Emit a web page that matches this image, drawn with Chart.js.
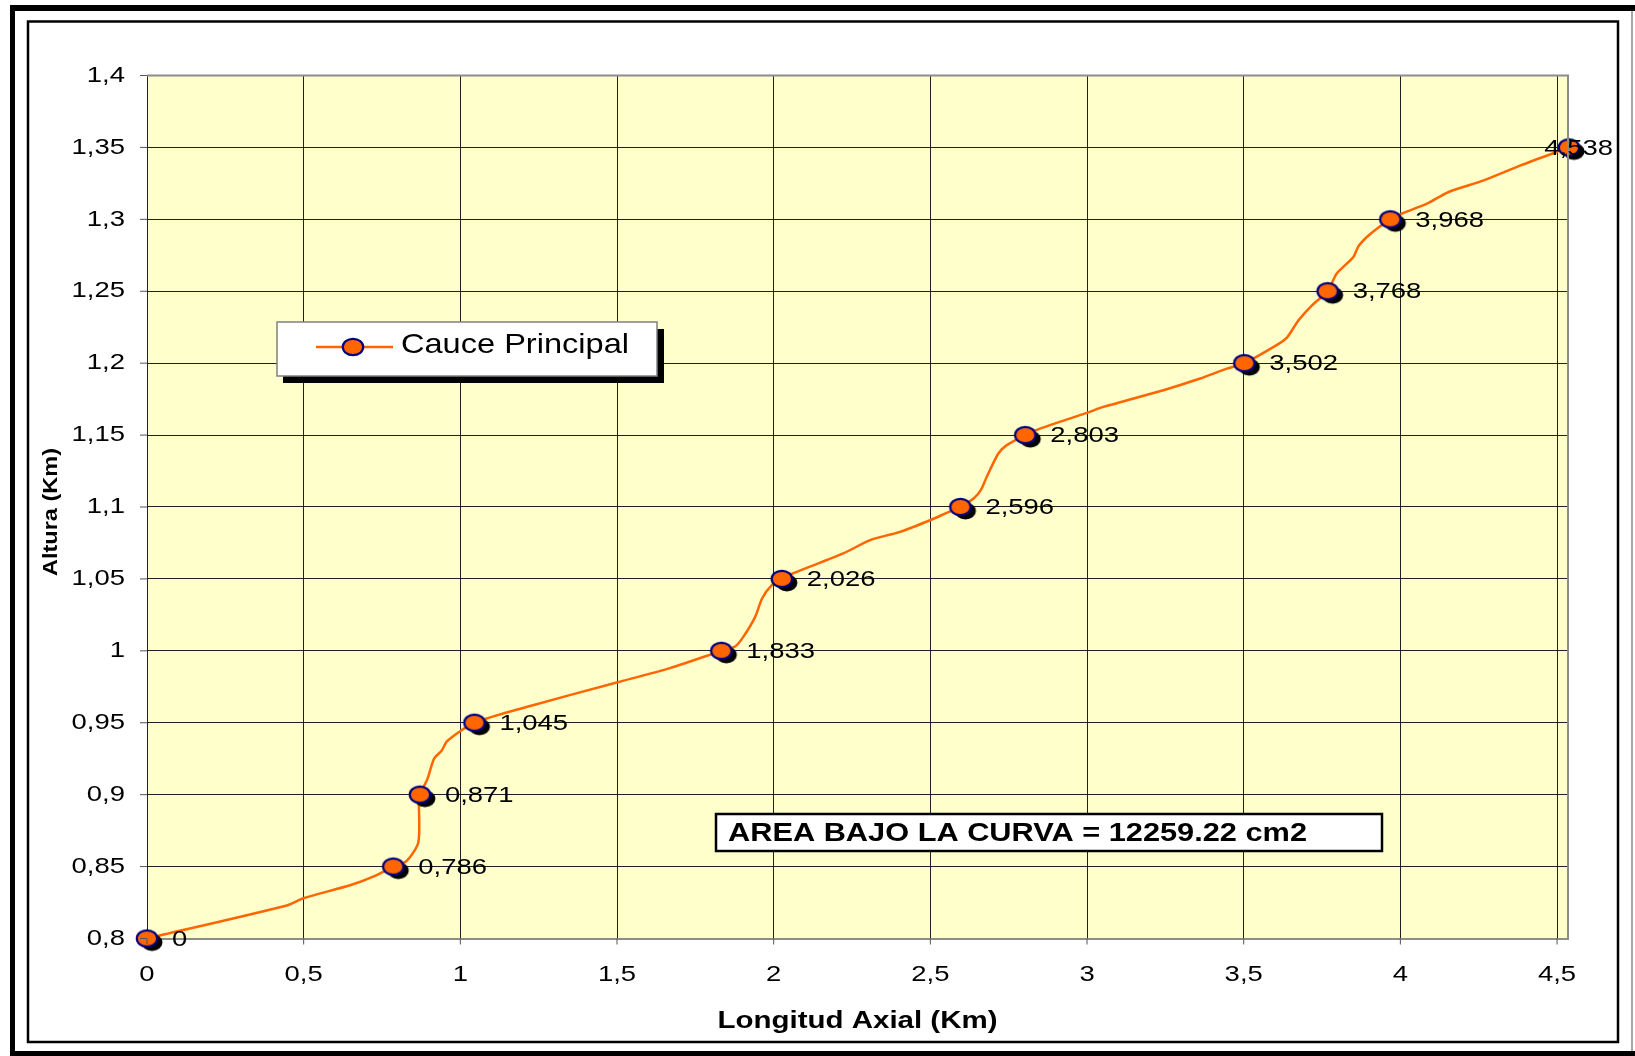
<!DOCTYPE html>
<html lang="es">
<head>
<meta charset="UTF-8" />
<title>Curva hipsométrica</title>
<script src="https://cdn.jsdelivr.net/npm/chart.js"></script>
<style>
  body { margin: 0; background: #fff; }
  canvas { display: block; }
</style>
</head>
<body>
<canvas id="grafico" width="1635" height="1056"></canvas>
<script>
  // curva trazada (km)
  var curvaX = [0, 0.446, 0.499, 0.648, 0.722, 0.786, 0.829, 0.866, 0.868, 0.871, 0.895, 0.916, 0.940, 0.959,
    1.045, 1.211, 1.499, 1.669, 1.833, 1.877, 1.903, 1.941, 1.963, 1.994, 2.026, 2.063, 2.222, 2.308, 2.403,
    2.499, 2.552, 2.596, 2.638, 2.661, 2.680, 2.717, 2.744, 2.803, 2.850, 2.999, 3.052, 3.244, 3.361, 3.446,
    3.502, 3.601, 3.638, 3.675, 3.718, 3.768, 3.797, 3.850, 3.866, 3.893, 3.925, 3.968, 4.005, 4.085, 4.154,
    4.266, 4.384, 4.538];
  var curvaY = [0.8, 0.823, 0.828, 0.837, 0.843, 0.85, 0.854, 0.867, 0.895, 0.9, 0.911, 0.925, 0.9305, 0.9375,
    0.95, 0.961, 0.978, 0.988, 1.0, 1.003, 1.0097, 1.0236, 1.0364, 1.0457, 1.05, 1.054, 1.0677, 1.077, 1.0827,
    1.0908, 1.0959, 1.1, 1.1059, 1.1117, 1.121, 1.1372, 1.143, 1.15, 1.1545, 1.1654, 1.1696, 1.1812, 1.1893, 1.1962,
    1.2, 1.212, 1.2178, 1.2298, 1.2402, 1.25, 1.2623, 1.2738, 1.2812, 1.2877, 1.2935, 1.3, 1.304, 1.3109, 1.319,
    1.3271, 1.3375, 1.35];

  // puntos marcados
  var puntosX = [0, 0.786, 0.871, 1.045, 1.833, 2.026, 2.596, 2.803, 3.502, 3.768, 3.968, 4.538];
  var puntosY = [0.8, 0.85, 0.9, 0.95, 1.0, 1.05, 1.1, 1.15, 1.2, 1.25, 1.3, 1.35];

  var ticksX = [0, 0.5, 1, 1.5, 2, 2.5, 3, 3.5, 4, 4.5];
  var ticksY = [0.8, 0.85, 0.9, 0.95, 1, 1.05, 1.1, 1.15, 1.2, 1.25, 1.3, 1.35, 1.4];

  var nombreSerie = 'Cauce Principal';
  var notaArea = 'AREA BAJO LA CURVA = 12259.22 cm2';
  var tituloX = 'Longitud Axial (Km)';
  var tituloY = 'Altura (Km)';

  var FUENTE = "'Liberation Sans', Arial, sans-serif";

  function coma(v) { return String(v).replace('.', ','); }

  function texto(ctx, s, x, y, font, align, sx) {
    ctx.save();
    ctx.font = font;
    var w = ctx.measureText(s).width * sx;
    var left = align === 'right' ? x - w : (align === 'center' ? x - w / 2 : x);
    ctx.translate(left, y);
    ctx.scale(sx, 1);
    ctx.textAlign = 'left';
    ctx.textBaseline = 'middle';
    ctx.fillStyle = '#000';
    ctx.fillText(s, 0, 0);
    ctx.restore();
    return w;
  }

  function textoAncho(ctx, s, x, y, font, align, ancho) {
    ctx.save();
    ctx.font = font;
    var sx = ancho / ctx.measureText(s).width;
    ctx.restore();
    return texto(ctx, s, x, y, font, align, sx);
  }

  function marcador(g, cx, cy) {
    g.save();
    g.fillStyle = '#FF6600';
    g.strokeStyle = '#000080';
    g.lineWidth = 2.2;
    g.beginPath();
    g.ellipse(cx, cy, 10.2, 8.2, 0, 0, 2 * Math.PI);
    g.fill();
    g.stroke();
    g.restore();
  }

  function imagenMarcador() {
    var c = document.createElement('canvas');
    c.width = 44; c.height = 38;
    var g = c.getContext('2d');
    g.fillStyle = '#000';
    g.beginPath();
    g.ellipse(27, 23, 10.5, 8.5, 0, 0, 2 * Math.PI);
    g.fill();
    marcador(g, 22, 19);
    return c;
  }

  var pluginFondo = {
    id: 'fondo',
    beforeDraw: function (chart) {
      var ctx = chart.ctx, a = chart.chartArea;
      ctx.save();
      ctx.fillStyle = '#fff';
      ctx.fillRect(0, 0, chart.width, chart.height);
      // marco exterior
      ctx.fillStyle = '#000';
      ctx.fillRect(10, 5, 1640, 6);
      ctx.fillRect(10, 5, 5, 1060);
      ctx.fillRect(10, 1051, 1640, 6);
      ctx.strokeStyle = '#888';
      ctx.lineWidth = 1.5;
      ctx.beginPath(); ctx.moveTo(1632, 11); ctx.lineTo(1632, 1051); ctx.stroke();
      // marco interior
      ctx.strokeStyle = '#000';
      ctx.lineWidth = 2.5;
      ctx.strokeRect(28, 21.5, 1590, 1020.5);
      // area de trazado
      ctx.fillStyle = '#FFFFCC';
      ctx.fillRect(a.left, a.top, a.right - a.left, a.bottom - a.top);
      ctx.restore();
    },
    afterDraw: function (chart) {
      var ctx = chart.ctx, a = chart.chartArea;
      var sx = chart.scales.x, sy = chart.scales.y;
      var fNum = '22.5px ' + FUENTE;
      ctx.save();
      // borde superior y derecho
      ctx.strokeStyle = '#8c8c8c';
      ctx.lineWidth = 2;
      ctx.beginPath();
      ctx.moveTo(a.left, a.top); ctx.lineTo(a.right, a.top); ctx.lineTo(a.right, a.bottom);
      ctx.stroke();
      // marcas de ejes
      ctx.strokeStyle = '#555';
      ctx.lineWidth = 1;
      ctx.beginPath();
      ticksY.forEach(function (v) {
        var y = sy.getPixelForValue(v);
        ctx.moveTo(a.left - 7, y); ctx.lineTo(a.left, y);
      });
      ticksX.forEach(function (v) {
        var x = sx.getPixelForValue(v);
        ctx.moveTo(x, a.bottom); ctx.lineTo(x, a.bottom + 6);
      });
      ctx.stroke();
      ctx.restore();

      ticksY.forEach(function (v) {
        texto(ctx, coma(v), 125, sy.getPixelForValue(v), fNum, 'right', 1.22);
      });
      ticksX.forEach(function (v) {
        texto(ctx, coma(v), sx.getPixelForValue(v), 975, fNum, 'center', 1.22);
      });

      // titulos
      textoAncho(ctx, tituloX, (a.left + a.right) / 2, 1021, 'bold 24px ' + FUENTE, 'center', 280);
      ctx.save();
      ctx.translate(51, 512);
      ctx.rotate(-Math.PI / 2);
      textoAncho(ctx, tituloY, 0, 0, 'bold 21px ' + FUENTE, 'center', 128);
      ctx.restore();

      // etiquetas de los puntos
      puntosX.forEach(function (v, i) {
        var px = sx.getPixelForValue(v), py = sy.getPixelForValue(puntosY[i]);
        ctx.save();
        ctx.font = fNum;
        var w = ctx.measureText(coma(v)).width * 1.22;
        ctx.restore();
        var left = Math.min(px + 25, 1613 - w);
        texto(ctx, coma(v), left, py + 1, fNum, 'left', 1.22);
      });

      // leyenda
      ctx.save();
      ctx.fillStyle = '#000';
      ctx.fillRect(283, 329, 381, 54);
      ctx.fillStyle = '#fff';
      ctx.fillRect(277, 322, 380, 54);
      ctx.strokeStyle = '#808080';
      ctx.lineWidth = 1.5;
      ctx.strokeRect(277, 322, 380, 54);
      ctx.strokeStyle = '#FF6600';
      ctx.lineWidth = 2.5;
      ctx.beginPath(); ctx.moveTo(316, 347); ctx.lineTo(393, 347); ctx.stroke();
      marcador(ctx, 353, 347);
      ctx.restore();
      textoAncho(ctx, nombreSerie, 401, 345, '28px ' + FUENTE, 'left', 228);

      // nota del area
      ctx.save();
      ctx.fillStyle = '#fff';
      ctx.fillRect(716, 814, 666, 37);
      ctx.strokeStyle = '#000';
      ctx.lineWidth = 2.5;
      ctx.strokeRect(716, 814, 666, 37);
      ctx.restore();
      textoAncho(ctx, notaArea, 728, 834, 'bold 26px ' + FUENTE, 'left', 579);
    }
  };

  var datosCurva = curvaX.map(function (x, i) { return { x: x, y: curvaY[i] }; });
  var datosPuntos = puntosX.map(function (x, i) { return { x: x, y: puntosY[i] }; });

  new Chart(document.getElementById('grafico'), {
    type: 'scatter',
    data: {
      datasets: [{
        label: nombreSerie,
        data: datosCurva,
        showLine: true,
        borderColor: '#FF6600',
        borderWidth: 2.5,
        pointRadius: 0,
        tension: 0.25,
        order: 2
      }, {
        label: nombreSerie,
        data: datosPuntos,
        showLine: false,
        pointStyle: imagenMarcador(),
        pointRadius: 9,
        clip: false,
        order: 1
      }]
    },
    options: {
      responsive: false,
      animation: false,
      events: [],
      layout: { padding: { left: 147, right: 67, top: 75.5, bottom: 117.5 } },
      plugins: { legend: { display: false }, tooltip: { enabled: false } },
      scales: {
        x: {
          type: 'linear', min: 0, max: 4.535,
          afterBuildTicks: function (s) { s.ticks = ticksX.map(function (v) { return { value: v }; }); },
          afterFit: function (s) { s.height = 0; },
          ticks: { display: false },
          grid: { color: '#202020', lineWidth: 1, drawTicks: false },
          border: { color: '#8c8c8c', width: 2 }
        },
        y: {
          type: 'linear', min: 0.8, max: 1.4,
          afterBuildTicks: function (s) { s.ticks = ticksY.map(function (v) { return { value: v }; }); },
          afterFit: function (s) { s.width = 0; },
          ticks: { display: false },
          grid: { color: '#202020', lineWidth: 1, drawTicks: false },
          border: { color: '#222', width: 1 }
        }
      }
    },
    plugins: [pluginFondo]
  });
</script>
</body>
</html>
